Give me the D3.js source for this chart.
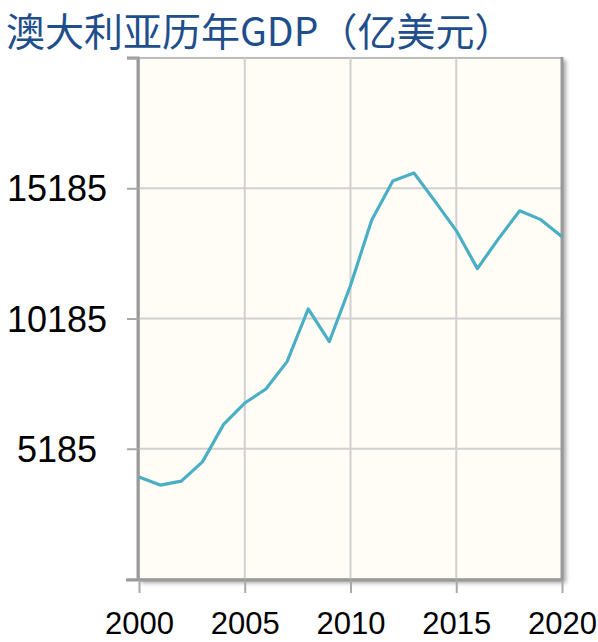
<!DOCTYPE html>
<html><head><meta charset="utf-8">
<script src="https://cdn.jsdelivr.net/npm/d3@7"></script>
<style>body{margin:0;background:#fff}svg{display:block}</style>
</head><body>
<script>
const years = [2000,2001,2002,2003,2004,2005,2006,2007,2008,2009,2010,2011,2012,2013,2014,2015,2016,2017,2018,2019,2020];
const gdp = [4100,3790,3940,4680,6120,6940,7480,8530,10550,9300,11450,13960,15465,15770,14680,13560,12100,13250,14320,13980,13320];
const yTicks = [185,5185,10185,15185,20185];
const yLabels = [5185,10185,15185];
const xTicks = [2000,2005,2010,2015,2020];
const title = "澳大利亚历年GDP（亿美元）";

const W=598,H=642;
const L=139,R=562,T=58,B=579;
const svg=d3.select("body").append("svg").attr("width",W).attr("height",H);
const x=d3.scaleLinear().domain([2000,2020]).range([L,R]);
const y=d3.scaleLinear().domain([185,20185]).range([B,T]);

const defs=svg.append("defs");
const f=defs.append("filter").attr("id","sh").attr("x","-5%").attr("y","-5%").attr("width","115%").attr("height","115%");
f.append("feGaussianBlur").attr("in","SourceAlpha").attr("stdDeviation",2);
f.append("feOffset").attr("dx",3).attr("dy",3).attr("result","b");
f.append("feComponentTransfer").append("feFuncA").attr("type","linear").attr("slope",0.35);
const m=f.append("feMerge");m.append("feMergeNode");m.append("feMergeNode").attr("in","SourceGraphic");

// plot background with shadow
svg.append("rect").attr("x",L).attr("y",T).attr("width",R-L).attr("height",B-T)
  .attr("fill","#fffdf6").attr("stroke","#bdbdbd").attr("stroke-width",2).attr("filter","url(#sh)");

// gridlines
svg.append("g").selectAll("line").data(xTicks.slice(1,-1)).join("line")
  .attr("x1",d=>x(d)).attr("x2",d=>x(d)).attr("y1",T).attr("y2",B)
  .attr("stroke","#d0d0d0").attr("stroke-width",2);
svg.append("g").selectAll("line").data(yTicks.slice(1,-1)).join("line")
  .attr("x1",L).attr("x2",R).attr("y1",d=>y(d)).attr("y2",d=>y(d))
  .attr("stroke","#d0d0d0").attr("stroke-width",2);

// frame right/bottom darker
svg.append("line").attr("x1",R).attr("x2",R).attr("y1",T-1).attr("y2",B+1).attr("stroke","#999").attr("stroke-width",3);

// axes
const yAxis=svg.append("g").attr("transform",`translate(${L-1},0)`)
  .call(d3.axisLeft(y).tickValues(yTicks).tickSize(11).tickFormat(d=>yLabels.includes(d)?d:""));
const xAxis=svg.append("g").attr("transform",`translate(0,${B+1})`)
  .call(d3.axisBottom(x).tickValues(xTicks).tickSize(13).tickFormat(d3.format("d")));
[yAxis,xAxis].forEach(a=>{
  a.select(".domain").attr("stroke","#9a9a9a").attr("stroke-width",3);
  a.selectAll(".tick line").attr("stroke","#a8a8a8").attr("stroke-width",2);
});
yAxis.select(".domain").attr("d",`M-11,${T}H0V${B+1}`);
xAxis.select(".domain").attr("d",`M${L-13},0H${R}`);
yAxis.selectAll(".tick text").attr("font-family","'Liberation Sans',Arial,sans-serif")
  .attr("font-size",36).attr("fill","#000").attr("text-anchor","middle").attr("x",57-L+1).attr("dy","0.35em");
xAxis.selectAll(".tick text").attr("font-family","'Liberation Sans',Arial,sans-serif")
  .attr("font-size",31).attr("fill","#000").attr("y",32).attr("dy","0.71em");

// line
svg.append("path").datum(years.map((d,i)=>[d,gdp[i]]))
  .attr("d",d3.line().x(d=>x(d[0])).y(d=>y(d[1])))
  .attr("fill","none").attr("stroke","#4aafc4").attr("stroke-width",3.2).attr("stroke-linejoin","round");

// title
svg.append("text").attr("x",6).attr("y",46).text(title)
  .attr("font-family","'Noto Sans CJK SC',sans-serif").attr("font-size",39).attr("fill","#1f4e8c");
</script>
</body></html>
